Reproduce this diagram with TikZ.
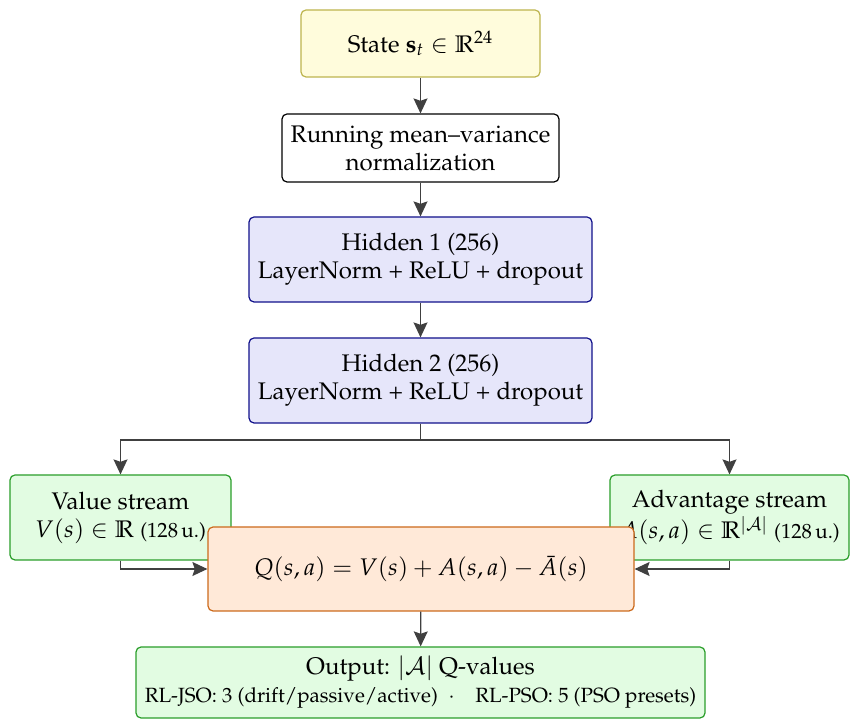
\documentclass[tikz,border=0pt]{standalone}
\usepackage[T1]{fontenc}
\usepackage{mathpazo}
\usepackage{amssymb}
\usetikzlibrary{arrows.meta}
\definecolor{statefill}{HTML}{FFFCDC}
\definecolor{statedraw}{HTML}{BDB44E}
\definecolor{hidfill}{HTML}{E6E6FA}
\definecolor{hiddraw}{HTML}{10108A}
\definecolor{grnfill}{HTML}{E2FCE2}
\definecolor{grndraw}{HTML}{2A9E2A}
\definecolor{qfill}{HTML}{FFE9D8}
\definecolor{qdraw}{HTML}{CC6A1C}
\definecolor{arrcol}{HTML}{404040}
\tikzset{
  box/.style={rounded corners=2.5pt, line width=0.6pt, align=center, inner sep=0pt,
    font=\fontsize{12}{14}\selectfont},
  arr/.style={draw=arrcol, line width=0.6pt, -{Stealth[length=7.5pt,width=7pt,inset=1.2pt]}},
  ln/.style={draw=arrcol, line width=0.6pt}
}
\begin{document}
\begin{tikzpicture}[x=0.5pt,y=-0.5pt]
\useasboundingbox (0,0) rectangle (859,727);
\node[box, fill=statefill, draw=statedraw, minimum width=119.5pt, minimum height=33.5pt] (state) at (420.5,43.5) {State $\mathbf{s}_t \in \mathbb{R}^{24}$};
\node[box, fill=white, draw=black, minimum width=138.5pt, minimum height=34pt] (norm) at (420.5,148) {Running mean--variance\\normalization};
\node[box, fill=hidfill, draw=hiddraw, minimum width=171.5pt, minimum height=42.5pt] (h1) at (420.5,259.5) {Hidden 1 (256)\\LayerNorm + ReLU + dropout};
\node[box, fill=hidfill, draw=hiddraw, minimum width=171.5pt, minimum height=42.5pt] (h2) at (420.5,380.5) {Hidden 2 (256)\\LayerNorm + ReLU + dropout};
\node[box, fill=grnfill, draw=grndraw, minimum width=110.5pt, minimum height=42.5pt] (val) at (120.5,517.5) {Value stream\\$V(s)\in\mathbb{R}$ {\fontsize{10.3}{12}\selectfont(128\,u.)}};
\node[box, fill=grnfill, draw=grndraw, minimum width=119.5pt, minimum height=42.5pt] (adv) at (729.5,517.5) {Advantage stream\\$A(s,a)\in\mathbb{R}^{|\mathcal{A}|}$ {\fontsize{10.3}{12}\selectfont(128\,u.)}};
\coordinate (split) at (420.5,440);
\draw[arr] (state) -- (norm);
\draw[arr] (norm) -- (h1);
\draw[arr] (h1) -- (h2);
\draw[ln] (h2.south) -- (split);
\draw[arr] (split) -| (val.north);
\draw[arr] (split) -| (adv.north);
\node[box, fill=qfill, draw=qdraw, minimum width=213pt, minimum height=42pt] (q) at (421,569) {$Q(s,a) = V(s) + A(s,a) - \bar{A}(s)$};
\draw[arr] (val.south) |- (q.west);
\draw[arr] (adv.south) |- (q.east);
\node[box, fill=grnfill, draw=grndraw, minimum width=284.5pt, minimum height=35.5pt] (out) at (420.5,682.5) {Output: $|\mathcal{A}|$ Q-values\\{\fontsize{10.3}{12.5}\selectfont RL-JSO: 3 (drift/passive/active)\enspace$\cdot$\quad RL-PSO: 5 (PSO presets)}};
\draw[arr] (q) -- (out);
\end{tikzpicture}
\end{document}
